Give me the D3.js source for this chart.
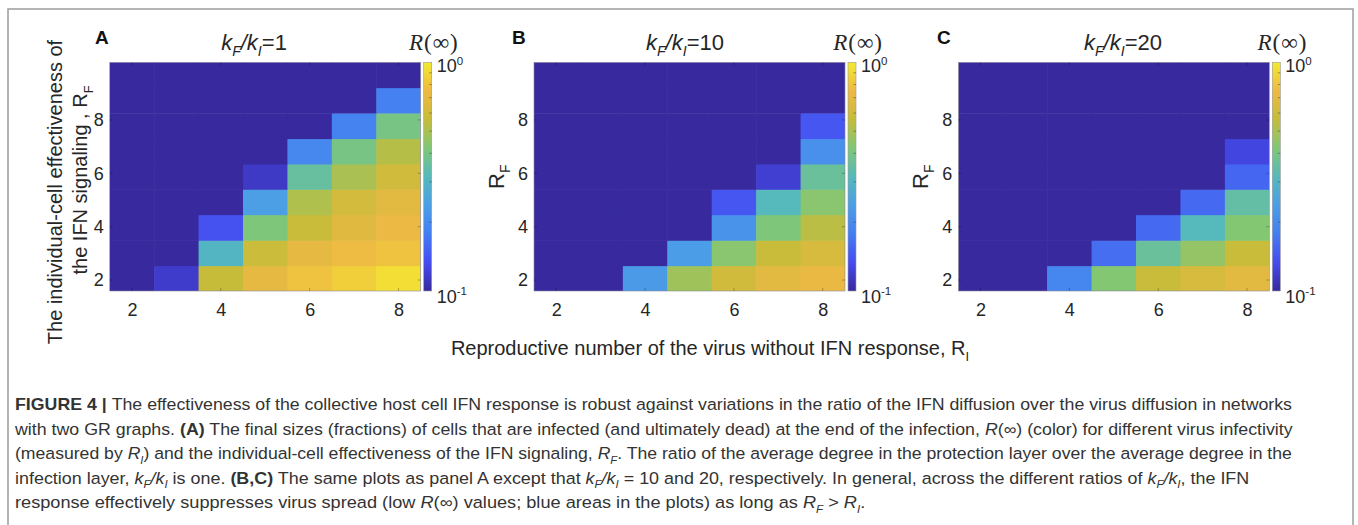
<!DOCTYPE html>
<html>
<head>
<meta charset="utf-8">
<script src="https://cdn.jsdelivr.net/npm/d3@7"></script>
<style>
  body { margin: 0; background: #fff; }
  svg { display: block; }
</style>
</head>
<body>
<script>
// ---- data ----
const riValues = [2, 3, 4, 5, 6, 7, 8];
const rfValues = [2.07, 3.02, 3.97, 4.93, 5.88, 6.83, 7.78, 8.74, 9.69];
const panelLetters = ["A", "B", "C"];
const kRatios = ["1", "10", "20"];
const xTicks = [2, 4, 6, 8];
const yTicks = [2, 4, 6, 8];

// R(inf): one row per R_F (bottom to top), one column per R_I (2..8)
const rInfA = [
    [0.03, 0.117, 0.562, 0.708, 0.794, 0.851, 0.933],
    [0.03, 0.03, 0.302, 0.589, 0.708, 0.759, 0.794],
    [0.03, 0.03, 0.138, 0.417, 0.575, 0.676, 0.741],
    [0.03, 0.03, 0.03, 0.240, 0.513, 0.617, 0.692],
    [0.03, 0.03, 0.03, 0.115, 0.355, 0.501, 0.603],
    [0.03, 0.03, 0.03, 0.03, 0.195, 0.398, 0.525],
    [0.03, 0.03, 0.03, 0.03, 0.03, 0.186, 0.398],
    [0.03, 0.03, 0.03, 0.03, 0.03, 0.03, 0.182],
    [0.03, 0.03, 0.03, 0.03, 0.03, 0.03, 0.03]
];
const rInfB = [
    [0.03, 0.03, 0.229, 0.479, 0.603, 0.692, 0.724],
    [0.03, 0.03, 0.03, 0.234, 0.437, 0.575, 0.631],
    [0.03, 0.03, 0.03, 0.03, 0.214, 0.417, 0.537],
    [0.03, 0.03, 0.03, 0.03, 0.141, 0.316, 0.437],
    [0.03, 0.03, 0.03, 0.03, 0.03, 0.120, 0.363],
    [0.03, 0.03, 0.03, 0.03, 0.03, 0.03, 0.209],
    [0.03, 0.03, 0.03, 0.03, 0.03, 0.03, 0.141],
    [0.03, 0.03, 0.03, 0.03, 0.03, 0.03, 0.03],
    [0.03, 0.03, 0.03, 0.03, 0.03, 0.03, 0.03]
];
const rInfC = [
    [0.03, 0.03, 0.191, 0.427, 0.575, 0.631, 0.692],
    [0.03, 0.03, 0.03, 0.162, 0.363, 0.457, 0.575],
    [0.03, 0.03, 0.03, 0.03, 0.158, 0.316, 0.427],
    [0.03, 0.03, 0.03, 0.03, 0.03, 0.158, 0.347],
    [0.03, 0.03, 0.03, 0.03, 0.03, 0.03, 0.155],
    [0.03, 0.03, 0.03, 0.03, 0.03, 0.03, 0.126],
    [0.03, 0.03, 0.03, 0.03, 0.03, 0.03, 0.03],
    [0.03, 0.03, 0.03, 0.03, 0.03, 0.03, 0.03],
    [0.03, 0.03, 0.03, 0.03, 0.03, 0.03, 0.03]
];
const panelData = [rInfA, rInfB, rInfC];

// parula-like colour map
const cmapStops = [0, 0.125, 0.25, 0.375, 0.5, 0.625, 0.75, 0.875, 1];
const cmapColors = ["#38299e", "#464cf0", "#447ef2", "#4c9ee6", "#56b9bb",
                    "#80c776", "#c6bc3a", "#eeb944", "#f3ea30"];

// caption, line by line
const captionLines = [
    [{ t: "FIGURE 4 | ", b: true }, { t: "The effectiveness of the collective host cell IFN response is robust against variations in the ratio of the IFN diffusion over the virus diffusion in networks" }],
    [{ t: "with two GR graphs. " }, { t: "(A)", b: true }, { t: " The final sizes (fractions) of cells that are infected (and ultimately dead) at the end of the infection, " }, { t: "R", i: true }, { t: "(∞) (color) for different virus infectivity" }],
    [{ t: "(measured by " }, { t: "R", i: true }, { t: "I", i: true, sub: true }, { t: ") and the individual-cell effectiveness of the IFN signaling, " }, { t: "R", i: true }, { t: "F", i: true, sub: true }, { t: ". The ratio of the average degree in the protection layer over the average degree in the" }],
    [{ t: "infection layer, " }, { t: "k", i: true }, { t: "F", i: true, sub: true }, { t: "/", i: true }, { t: "k", i: true }, { t: "I", i: true, sub: true }, { t: " is one. " }, { t: "(B,C)", b: true }, { t: " The same plots as panel A except that " }, { t: "k", i: true }, { t: "F", i: true, sub: true }, { t: "/", i: true }, { t: "k", i: true }, { t: "I", i: true, sub: true }, { t: " = 10 and 20, respectively. In general, across the different ratios of " }, { t: "k", i: true }, { t: "F", i: true, sub: true }, { t: "/", i: true }, { t: "k", i: true }, { t: "I", i: true, sub: true }, { t: ", the IFN" }],
    [{ t: "response effectively suppresses virus spread (low " }, { t: "R", i: true }, { t: "(∞) values; blue areas in the plots) as long as " }, { t: "R", i: true }, { t: "F", i: true, sub: true }, { t: " > " }, { t: "R", i: true }, { t: "I", i: true, sub: true }, { t: "." }]
];
const captionEnds = [1293, 1294, 1293, 1250, 866];

// ---- layout ----
const width = 1358, height = 525;
const plotW = 311, plotTop = 62.3, plotH = 228.7;
const plotLefts = [109.7, 534, 958.3];
const titleXs = [254, 685, 1123];
const letterXs = [95, 512, 937];
const sansFont = "'Liberation Sans', Arial, Helvetica, sans-serif";
const serifFont = "'Liberation Serif', 'Times New Roman', serif";
const ink = "#262626";

// writes a run of text parts (italic / bold / sub / sup) into a <text>
function rich(sel, parts, size) {
    let shift = 0;
    parts.forEach(p => {
        const ts = sel.append("tspan").text(p.t);
        if (p.i) ts.attr("font-style", "italic");
        if (p.b) ts.attr("font-weight", "bold");
        const target = p.sub ? 0.28 * size : p.sup ? -0.42 * size : 0;
        if (target !== shift) {
            ts.attr("dy", target - shift);
            shift = target;
        }
        if (p.sub || p.sup) ts.attr("font-size", size * 0.64);
    });
    return sel;
}

const svg = d3.select("body").append("svg")
    .attr("width", width)
    .attr("height", height)
    .style("font-family", sansFont);

svg.append("rect").attr("width", width).attr("height", height).attr("fill", "#fff");

// figure frame
svg.append("rect")
    .attr("x", 8).attr("y", 9)
    .attr("width", 1345).attr("height", 540)
    .attr("fill", "none")
    .attr("stroke", "#9c9c9c")
    .attr("stroke-width", 1.5);

const defs = svg.append("defs");

const logT = d3.scaleLog().domain([0.1, 1]).range([0, 1]).clamp(true);
const cmap = d3.scaleLinear().domain(cmapStops).range(cmapColors).interpolate(d3.interpolateRgb);
const color = v => cmap(logT(v));

const grad = defs.append("linearGradient")
    .attr("id", "cbar-grad")
    .attr("x1", 0).attr("y1", 1).attr("x2", 0).attr("y2", 0);
cmapStops.forEach((s, k) => {
    grad.append("stop").attr("offset", s).attr("stop-color", cmapColors[k]);
});

panelData.forEach((data, p) => {
    const left = plotLefts[p];
    const bottom = plotTop + plotH;

    const x = d3.scaleLinear().domain([1.5, 8.5]).range([left, left + plotW]);
    const y = d3.scaleLinear().domain([1.59, 10.16]).range([bottom, plotTop]);
    const halfY = (rfValues[1] - rfValues[0]) / 2;

    defs.append("clipPath").attr("id", `clip-${p}`)
        .append("rect")
        .attr("x", left).attr("y", plotTop)
        .attr("width", plotW).attr("height", plotH);

    const cells = [];
    data.forEach((row, r) => row.forEach((v, c) => {
        cells.push({ ri: riValues[c], rf: rfValues[r], v });
    }));

    svg.append("g")
        .attr("clip-path", `url(#clip-${p})`)
        .selectAll("rect")
        .data(cells)
        .join("rect")
        .attr("x", d => x(d.ri - 0.5))
        .attr("y", d => y(d.rf + halfY))
        .attr("width", d => x(d.ri + 0.5) - x(d.ri - 0.5) + 0.6)
        .attr("height", d => y(d.rf - halfY) - y(d.rf + halfY) + 0.6)
        .attr("fill", d => color(d.v));

    // axes box
    svg.append("rect")
        .attr("x", left).attr("y", plotTop)
        .attr("width", plotW).attr("height", plotH)
        .attr("fill", "none")
        .attr("stroke", "#8a8a9a")
        .attr("stroke-width", 0.6);

    // faint inner ticks
    const tickG = svg.append("g").attr("stroke", "#000").attr("stroke-opacity", 0.25);
    xTicks.forEach(t => {
        tickG.append("line").attr("x1", x(t)).attr("x2", x(t)).attr("y1", bottom).attr("y2", bottom - 3);
        tickG.append("line").attr("x1", x(t)).attr("x2", x(t)).attr("y1", plotTop).attr("y2", plotTop + 3);
    });
    yTicks.forEach(t => {
        tickG.append("line").attr("x1", left).attr("x2", left + 3).attr("y1", y(t)).attr("y2", y(t));
        tickG.append("line").attr("x1", left + plotW).attr("x2", left + plotW - 3).attr("y1", y(t)).attr("y2", y(t));
    });

    // x axis labels
    const xAxis = svg.append("g")
        .attr("transform", `translate(0,${bottom})`)
        .call(d3.axisBottom(x).tickValues(xTicks).tickFormat(d3.format("d")).tickSize(0).tickPadding(12));
    xAxis.select(".domain").remove();
    xAxis.selectAll("text").attr("font-size", 18).attr("font-family", sansFont).attr("fill", ink);

    // y axis labels
    const yAxis = svg.append("g")
        .attr("transform", `translate(${left},0)`)
        .call(d3.axisLeft(y).tickValues(yTicks).tickFormat(d3.format("d")).tickSize(0).tickPadding(6));
    yAxis.select(".domain").remove();
    yAxis.selectAll("text").attr("font-size", 18).attr("font-family", sansFont).attr("fill", ink);

    // colour bar
    const cbX = left + plotW + 3, cbW = 8;
    const cbY = d3.scaleLog().domain([0.1, 1]).range([bottom, plotTop]);
    svg.append("rect")
        .attr("x", cbX).attr("y", plotTop)
        .attr("width", cbW).attr("height", plotH)
        .attr("fill", "url(#cbar-grad)")
        .attr("stroke", "#9a9a9a")
        .attr("stroke-width", 0.6);
    svg.append("g")
        .selectAll("line")
        .data(cbY.ticks().filter(t => t > 0.1 && t < 1))
        .join("line")
        .attr("x1", cbX + cbW - 2.5).attr("x2", cbX + cbW)
        .attr("y1", d => cbY(d)).attr("y2", d => cbY(d))
        .attr("stroke", "#333").attr("stroke-opacity", 0.45);

    rich(svg.append("text")
        .attr("x", cbX + cbW + 5).attr("y", cbY(1) + 10)
        .attr("font-size", 18).attr("fill", ink),
        [{ t: "10" }, { t: "0", sup: true }], 18);
    rich(svg.append("text")
        .attr("x", cbX + cbW + 5).attr("y", cbY(0.1) + 12)
        .attr("font-size", 18).attr("fill", ink),
        [{ t: "10" }, { t: "-1", sup: true }], 18);

    // R(inf) over the colour bar
    svg.append("text")
        .attr("x", cbX + cbW + 27).attr("y", 50)
        .attr("text-anchor", "end")
        .attr("font-family", serifFont)
        .attr("font-size", 23)
        .attr("letter-spacing", 1)
        .attr("fill", ink)
        .call(s => rich(s, [{ t: "R", i: true }, { t: "(∞)" }], 23));

    // panel letter
    svg.append("text")
        .attr("x", letterXs[p]).attr("y", 44)
        .attr("font-size", 19).attr("font-weight", "bold")
        .attr("fill", "#111")
        .text(panelLetters[p]);

    // title
    svg.append("text")
        .attr("x", titleXs[p]).attr("y", 50)
        .attr("text-anchor", "middle")
        .attr("font-size", 22)
        .attr("fill", ink)
        .call(s => rich(s, [
            { t: "k", i: true }, { t: "F", i: true, sub: true }, { t: "/", i: true },
            { t: "k", i: true }, { t: "I", i: true, sub: true }, { t: "=" + kRatios[p] }
        ], 22));

    // y label
    if (p === 0) {
        svg.append("text")
            .attr("transform", `translate(62,192) rotate(-90)`)
            .attr("text-anchor", "middle")
            .attr("font-size", 20).attr("fill", ink)
            .text("The individual-cell effectiveness of");
        svg.append("text")
            .attr("transform", `translate(87,180) rotate(-90)`)
            .attr("text-anchor", "middle")
            .attr("font-size", 20).attr("fill", ink)
            .call(s => rich(s, [{ t: "the IFN signaling , R" }, { t: "F", sub: true }], 20));
    } else {
        svg.append("text")
            .attr("transform", `translate(${left - 30},${plotTop + plotH / 2}) rotate(-90)`)
            .attr("text-anchor", "middle")
            .attr("font-size", 22).attr("fill", ink)
            .call(s => rich(s, [{ t: "R" }, { t: "F", sub: true }], 22));
    }
});

// shared x label
svg.append("text")
    .attr("x", 710).attr("y", 355)
    .attr("text-anchor", "middle")
    .attr("font-size", 20).attr("fill", ink)
    .call(s => rich(s, [{ t: "Reproductive number of the virus without IFN response, R" }, { t: "I", sub: true }], 20));

// caption: a condensed look, each line squeezed to its width in the reference
captionLines.forEach((parts, k) => {
    const t = svg.append("text")
        .attr("x", 0).attr("y", 0)
        .attr("font-size", 16.5)
        .attr("fill", "#333");
    rich(t, parts, 16.5);
    const w = t.node().getComputedTextLength();
    const sx = (captionEnds[k] - 15) / w;
    t.attr("transform", `translate(15,${410 + k * 24.6}) scale(${sx},1)`);
});
</script>
</body>
</html>
